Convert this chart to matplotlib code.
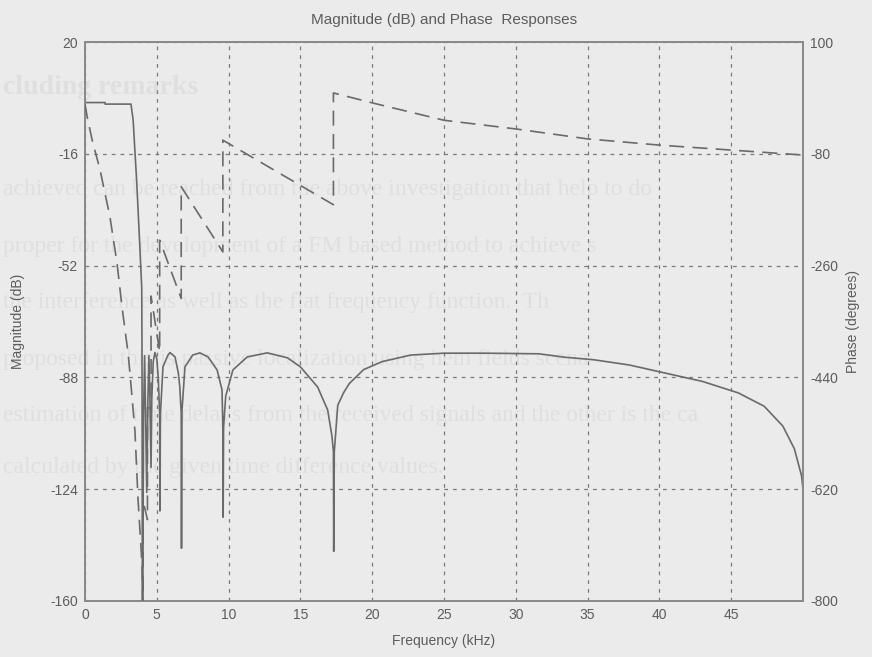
import matplotlib
matplotlib.use("Agg")
import matplotlib.pyplot as plt
import numpy as np

plt.rcParams['font.family'] = ['Liberation Sans', 'DejaVu Sans']
plt.rcParams['axes.unicode_minus'] = False

# magnitude response (kHz, dB)
mag_khz = [0, 1.4, 1.4, 3.2, 3.35, 3.6, 3.8, 3.95, 3.97, 4.0, 4.08, 4.15, 4.22, 4.3,
           4.38, 4.45, 4.52, 4.6, 4.65, 4.75, 4.87, 5.0, 5.1, 5.2, 5.22, 5.25,
           5.43, 5.78, 5.92, 6.27, 6.5, 6.6, 6.7, 6.72, 6.75, 6.96, 7.5, 8.0,
           8.57, 9.2, 9.54, 9.6, 9.62, 9.65, 9.8, 10.3, 11.3, 12.7, 14.1, 15.0,
           16.2, 16.9, 17.2, 17.3, 17.32, 17.36, 17.6, 18.0, 18.4, 19.4, 20.7,
           22.7, 25, 27.8, 31.6, 33.4, 35.4, 37.9, 40.4, 43, 45.5, 47.3, 48.6,
           49.4, 49.9, 50]
mag_db = [0.5, 0.5, 0.0, 0.0, -5, -25, -44, -59, -80, -170, -100, -81, -100, -125,
          -95, -81, -95, -117, -95, -83, -80, -82, -88, -100, -131, -100,
          -84.6, -80.8, -80, -81.4, -86.6, -91, -99.5, -143, -99, -84.6, -80.8, -80.1,
          -81.4, -85.6, -92, -104, -133, -104, -94, -85.6, -81.4, -80.1, -81.7, -84.6,
          -91.1, -98.5, -107, -112, -144, -112, -97, -93, -90, -85.5, -82.9,
          -80.8, -80.2, -80.2, -80.4, -81.5, -82.3, -84, -86.6, -89.3, -93, -97.3, -103.7,
          -111, -119.7, -124]

# phase response (kHz, degrees)
ph_khz = [0, 0.15, 0.5, 1.05, 1.74, 2.23, 2.58, 3.0, 3.13, 3.48, 3.69, 3.97, 4.05,
          4.05, 4.35, 4.35, 4.6, 4.6, 5.2, 5.2, 6.7, 6.7, 9.6, 9.6, 17.3, 17.3,
          20, 25, 30, 35, 40, 45, 50]
ph_deg = [0, -20, -58, -106, -182, -256, -327, -401, -433, -527, -635, -741, -820,
          -640, -669, -489, -489, -309, -399, -219, -313, -133, -238, -58, -162, 18,
          2, -26, -40, -56, -66, -74, -82]

mag_ticks = [20, -16, -52, -88, -124, -160]
ph_ticks = [100, -80, -260, -440, -620, -800]
f_ticks = [0, 5, 10, 15, 20, 25, 30, 35, 40, 45]

# faint text of the scanned page behind the chart
page_lines = [
    "achieved can be reached from the above investigation that help to do",
    "proper for the development of a FM based method to achieve s",
    "the interference as well as the flat frequency function.  Th",
    "proposed in this is passive localization using hem fields scena",
    "estimation of time delays from the received signals and the other is the ca",
    "calculated by the given time difference values.",
]
page_y = [190, 247, 303, 360, 415, 468]

bg = '#ebebeb'
ink = '#5c5c5c'
line_c = '#6a6a6a'
faint = '#dfdfdf'

fig = plt.figure(figsize=(8.72, 6.57), dpi=100, facecolor=bg)

fig.text(0.003, 1 - 88/657, "cluding remarks", fontsize=20, fontweight='bold',
         family='Liberation Serif', color=faint, va='center', zorder=-5)
for txt, yy in zip(page_lines, page_y):
    fig.text(0.003, 1 - yy/657, txt, fontsize=17, family='Liberation Serif',
             color=faint, va='center', zorder=-5)

ax = fig.add_axes([85/872, 1-601/657, 718/872, 559/657])
ax.patch.set_alpha(0)
ax2 = ax.twinx()
ax2.patch.set_alpha(0)

ax.plot(mag_khz, mag_db, color=line_c, lw=1.2, zorder=3)
ax2.plot(ph_khz, ph_deg, color=line_c, lw=1.2, dashes=(9, 5), zorder=3)

ax.set_xlim(0, 50)
ax.set_ylim(-160, 20)
ax2.set_ylim(-800, 100)
ax.set_xticks(f_ticks)
ax.set_yticks(mag_ticks)
ax2.set_yticks(ph_ticks)

ax.grid(True, color='#7a7a7a', lw=0.9, dashes=(3, 4))
for a in (ax, ax2):
    for s in a.spines.values():
        s.set_color('#8a8a8a')
        s.set_linewidth(1.3)
    a.tick_params(length=0, labelsize=10, labelcolor=ink, pad=5)

ax.set_xlabel('Frequency (kHz)', fontsize=10, color=ink, labelpad=9)
ax.set_ylabel('Magnitude (dB)', fontsize=10, color=ink, labelpad=18)
ax2.set_ylabel('Phase (degrees)', fontsize=10, color=ink, labelpad=6)
ax.set_title('Magnitude (dB) and Phase  Responses', fontsize=11, color=ink, pad=13)

fig.savefig('out.png', dpi=100, facecolor=bg)
